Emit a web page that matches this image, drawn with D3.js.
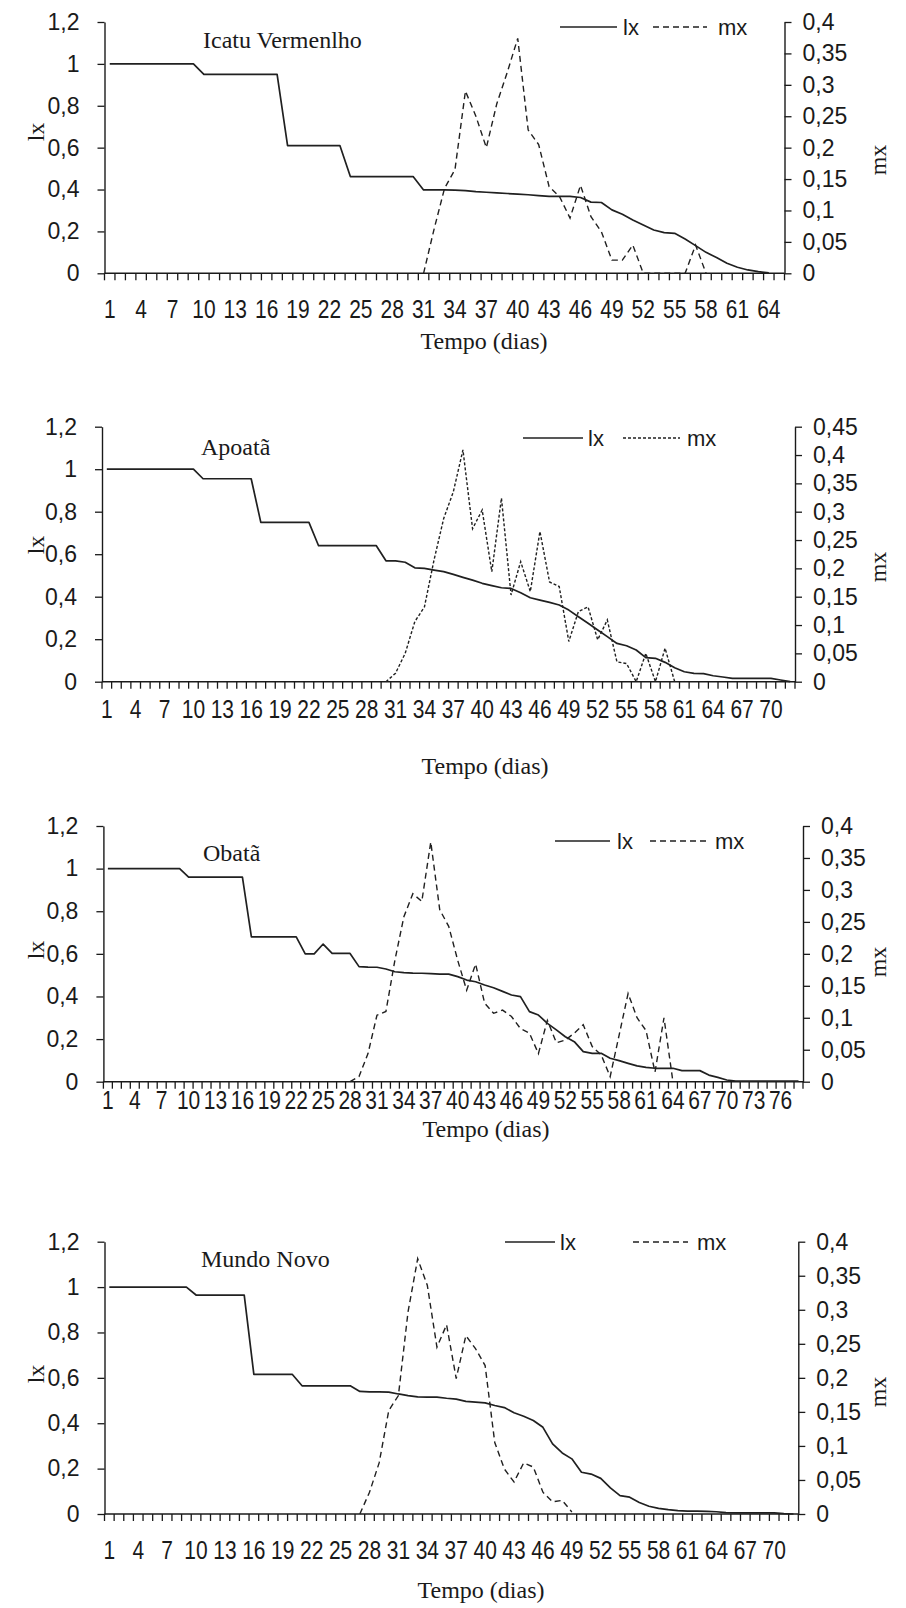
<!DOCTYPE html>
<html><head><meta charset="utf-8">
<script src="https://cdn.jsdelivr.net/npm/d3@7"></script>
<style>body{margin:0;background:#fff}svg{display:block}</style>
</head><body>
<svg id="c" width="906" height="1608"></svg>
<script>
// ---------- data ----------
const titles = ["Icatu Vermenlho", "Apoatã", "Obatã", "Mundo Novo"];
const nDays = [65, 72, 78, 72];
const lxTicks = [0, 0.2, 0.4, 0.6, 0.8, 1, 1.2];
const mxMaxes = [0.4, 0.45, 0.4, 0.4];
const mxStart = [31, 30, 28, 27];
const xLabel = "Tempo (dias)";

const lx1 = [1,1,1,1,1,1,1,1,1, 0.95,0.95,0.95,0.95,0.95,0.95,0.95,0.95,
  0.61,0.61,0.61,0.61,0.61,0.61, 0.462,0.462,0.462,0.462,0.462,0.462,0.462,
  0.398,0.398,0.398,0.397,0.395,0.39,0.387,0.384,0.381,0.378,0.375,0.371,0.367,0.367,0.367,
  0.362,0.34,0.338,0.303,0.282,0.255,0.231,0.207,0.194,0.191,0.164,0.132,0.1,0.075,0.048,
  0.029,0.016,0.008,0.002];
const mx1 = [0,0.07,0.135,0.165,0.29,0.25,0.2,0.27,0.32,0.374,0.228,0.205,0.138,0.122,0.088,
  0.14,0.09,0.066,0.021,0.021,0.045,0,0,0,0,0,0.045,0];

const lx2 = [1,1,1,1,1,1,1,1,1,1, 0.955,0.955,0.955,0.955,0.955,0.955,
  0.75,0.75,0.75,0.75,0.75,0.75, 0.64,0.64,0.64,0.64,0.64,0.64,0.64,
  0.569,0.569,0.562,0.536,0.533,0.525,0.518,0.505,0.491,0.478,0.463,0.452,0.442,0.439,0.419,
  0.395,0.384,0.373,0.361,0.337,0.306,0.275,0.243,0.212,0.18,0.169,0.149,0.113,0.11,0.091,
  0.066,0.047,0.039,0.038,0.028,0.022,0.016,0.016,0.016,0.016,0.016,0.008,0];
const mx2 = [0,0.015,0.05,0.106,0.132,0.215,0.288,0.335,0.409,0.27,0.303,0.194,0.324,0.153,
  0.212,0.159,0.265,0.176,0.168,0.071,0.124,0.132,0.074,0.109,0.035,0.032,0,0.05,0,0.059,0];

const lx3 = [1,1,1,1,1,1,1,1,1, 0.96,0.96,0.96,0.96,0.96,0.96,0.96,
  0.68,0.68,0.68,0.68,0.68,0.68, 0.6,0.6,0.646,0.602,0.602,0.602,
  0.54,0.538,0.537,0.529,0.516,0.512,0.51,0.509,0.507,0.505,0.505,0.493,0.477,0.469,0.454,
  0.441,0.424,0.407,0.399,0.329,0.313,0.274,0.243,0.211,0.188,0.141,0.133,0.133,0.11,0.099,
  0.086,0.074,0.067,0.063,0.063,0.063,0.052,0.052,0.052,0.031,0.02,0.008,
  0.003,0.003,0.003,0.003,0.003,0.003,0.003,0.003];
const mx3 = [0,0.008,0.044,0.104,0.11,0.19,0.258,0.294,0.282,0.375,0.269,0.243,0.19,0.143,
  0.184,0.123,0.107,0.112,0.102,0.083,0.076,0.044,0.096,0.061,0.065,0.076,0.089,0.055,0.042,
  0.008,0.073,0.138,0.1,0.08,0.015,0.1,0];

const lx4 = [1,1,1,1,1,1,1,1,1, 0.965,0.965,0.965,0.965,0.965,0.965,
  0.615,0.615,0.615,0.615,0.615, 0.565,0.565,0.565,0.565,0.565,0.565,
  0.54,0.538,0.538,0.537,0.529,0.522,0.516,0.515,0.515,0.51,0.506,0.496,0.493,0.49,0.478,
  0.469,0.446,0.431,0.412,0.382,0.309,0.269,0.243,0.184,0.176,0.157,0.115,0.081,0.074,
  0.051,0.034,0.025,0.019,0.015,0.013,0.013,0.012,0.01,0.006,0.005,0.005,0.005,0.005,0.005,
  0.002,0];
const mx4 = [0,0.032,0.075,0.152,0.174,0.297,0.375,0.336,0.245,0.278,0.199,0.262,0.243,0.218,
  0.105,0.066,0.047,0.075,0.069,0.032,0.018,0.02,0.003];

const lxSeries = [lx1, lx2, lx3, lx4];
const mxSeries = [mx1, mx2, mx3, mx4];

// ---------- layout (positions only) ----------
const layout = [
  {L:104.5, R:784.5, T:22, B:273.3, tX:203, tY:48, legY:27, sol:[560,617], lxT:623, dsh:[653,707], mxT:718, xPad:27, xlY:349, xlX:484, lxY:132, mxY:160, dash:"6,4"},
  {L:102, R:795, T:426.7, B:681.7, tX:201, tY:455, legY:438, sol:[523,583], lxT:588, dsh:[623,680], mxT:687, xPad:19, xlY:774, xlX:485, lxY:545, mxY:567, dash:"3,2"},
  {L:103.4, R:803, T:826, B:1081.7, tX:203, tY:861, legY:841, sol:[555,610], lxT:617, dsh:[650,707], mxT:715, xPad:10, xlY:1137, xlX:486, lxY:950, mxY:962, dash:"6,4"},
  {L:104.5, R:798.3, T:1241.7, B:1514, tX:201, tY:1267, legY:1242, sol:[505,555], lxT:560, dsh:[633,688], mxT:697, xPad:27, xlY:1598, xlX:481, lxY:1374, mxY:1392, dash:"6,4"}
];

const SANS = "'Liberation Sans', Arial, sans-serif";
const SERIF = "'Liberation Serif', 'Times New Roman', serif";
const INK = "#1a1a1a";
const fmt = d => String(+(+d).toFixed(2)).replace('.', ',');

const svg = d3.select("#c");

layout.forEach((g, i) => {
  const n = nDays[i];
  const days = d3.range(1, n + 1);
  const x = d3.scaleBand().domain(days).range([g.L, g.R]).padding(0);
  const cx = d => x(d) + x.bandwidth() / 2;
  const yL = d3.scaleLinear().domain([0, 1.2]).range([g.B, g.T]);
  const yR = d3.scaleLinear().domain([0, mxMaxes[i]]).range([g.B, g.T]);
  const mxTicks = d3.range(0, Math.round(mxMaxes[i] / 0.05) + 1).map(k => +(k * 0.05).toFixed(2));

  const p = svg.append("g");

  // left axis
  const la = p.append("g").attr("transform", `translate(${g.L},0)`)
    .call(d3.axisLeft(yL).tickValues(lxTicks).tickFormat(fmt).tickSize(7).tickSizeOuter(0).tickPadding(18));
  // right axis
  const ra = p.append("g").attr("transform", `translate(${g.R},0)`)
    .call(d3.axisRight(yR).tickValues(mxTicks).tickFormat(fmt).tickSize(7).tickSizeOuter(0).tickPadding(11));
  [la, ra].forEach(a => {
    a.select(".domain").attr("stroke", INK).attr("stroke-width", 1.4);
    a.selectAll(".tick line").attr("stroke", INK).attr("stroke-width", 1.3);
    a.selectAll("text").attr("font-family", SANS).attr("font-size", 23).attr("fill", INK);
  });

  // bottom axis: labels every 3 days
  const ba = p.append("g").attr("transform", `translate(0,${g.B})`)
    .call(d3.axisBottom(x).tickValues(days.filter(d => (d - 1) % 3 === 0)).tickSize(0).tickPadding(g.xPad));
  ba.select(".domain").remove();
  ba.selectAll("text").attr("font-family", SANS).attr("font-size", 25).attr("fill", INK)
    .attr("transform", "scale(0.84,1)");
  // bottom axis line and tick marks at category boundaries
  p.append("line").attr("x1", g.L).attr("x2", g.R).attr("y1", g.B).attr("y2", g.B)
    .attr("stroke", INK).attr("stroke-width", 1.5);
  const bounds = days.map(d => x(d)).concat([x(n) + x.bandwidth()]);
  p.append("g").selectAll("line").data(bounds).join("line")
    .attr("x1", d => d).attr("x2", d => d).attr("y1", g.B).attr("y2", g.B + 7)
    .attr("stroke", INK).attr("stroke-width", 1.3);

  // lx line
  const lxData = lxSeries[i].map((v, k) => ({d: k + 1, v}));
  p.append("path").datum(lxData)
    .attr("d", d3.line().x(d => cx(d.d)).y(d => yL(d.v)))
    .attr("fill", "none").attr("stroke", "#202020").attr("stroke-width", 1.7).attr("stroke-linejoin", "round");

  // mx line
  const mxData = mxSeries[i].map((v, k) => ({d: mxStart[i] + k, v}));
  p.append("path").datum(mxData)
    .attr("d", d3.line().x(d => cx(d.d)).y(d => yR(d.v)))
    .attr("fill", "none").attr("stroke", "#202020").attr("stroke-width", 1.4)
    .attr("stroke-dasharray", g.dash);

  // title
  p.append("text").attr("x", g.tX).attr("y", g.tY).text(titles[i])
    .attr("font-family", SERIF).attr("font-size", 24).attr("fill", INK);

  // legend
  p.append("line").attr("x1", g.sol[0]).attr("x2", g.sol[1]).attr("y1", g.legY).attr("y2", g.legY)
    .attr("stroke", "#202020").attr("stroke-width", 1.7);
  p.append("text").attr("x", g.lxT).attr("y", g.legY).attr("dy", "0.36em").text("lx")
    .attr("font-family", SANS).attr("font-size", 22).attr("fill", INK);
  p.append("line").attr("x1", g.dsh[0]).attr("x2", g.dsh[1]).attr("y1", g.legY).attr("y2", g.legY)
    .attr("stroke", "#202020").attr("stroke-width", 1.4).attr("stroke-dasharray", g.dash);
  p.append("text").attr("x", g.mxT).attr("y", g.legY).attr("dy", "0.36em").text("mx")
    .attr("font-family", SANS).attr("font-size", 22).attr("fill", INK);

  // axis titles
  p.append("text").attr("x", g.xlX).attr("y", g.xlY).attr("text-anchor", "middle").text(xLabel)
    .attr("font-family", SERIF).attr("font-size", 24).attr("fill", INK);
  p.append("text").attr("transform", `translate(36,${g.lxY}) rotate(-90)`).attr("text-anchor", "middle")
    .attr("dy", "0.35em").text("lx").attr("font-family", SERIF).attr("font-size", 24).attr("fill", INK);
  p.append("text").attr("transform", `translate(878,${g.mxY}) rotate(-90)`).attr("text-anchor", "middle")
    .attr("dy", "0.35em").text("mx").attr("font-family", SERIF).attr("font-size", 24).attr("fill", INK);
});
</script>
</body></html>
